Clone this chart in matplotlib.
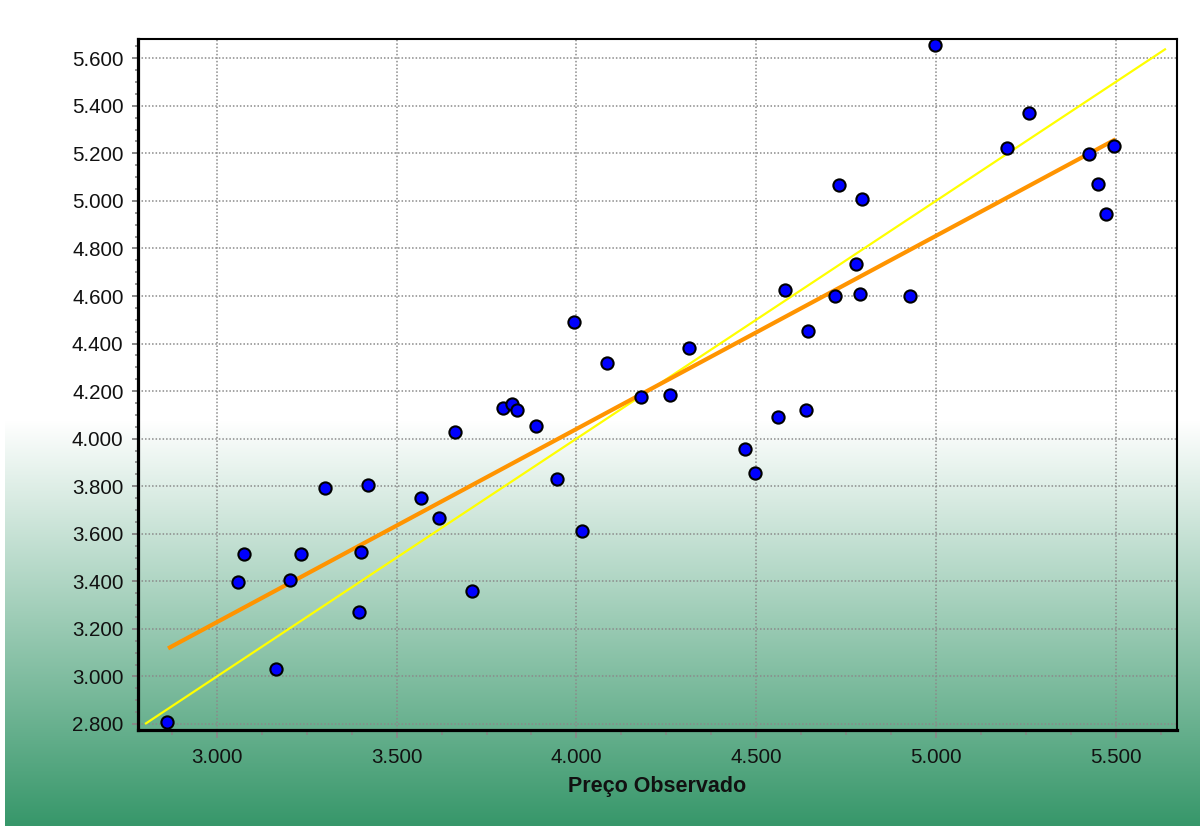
import numpy as np
import matplotlib
matplotlib.use("Agg")
import matplotlib.pyplot as plt
from matplotlib.ticker import MultipleLocator, FuncFormatter
from matplotlib.colors import LinearSegmentedColormap

# ---- data ----
obs_price = [2861, 3058, 3074, 3165, 3203, 3235, 3300, 3394, 3400, 3421,
             3567, 3619, 3662, 3710, 3796, 3822, 3834, 3887, 3945, 3993,
             4015, 4084, 4180, 4260, 4314, 4469, 4496, 4560, 4580, 4640,
             4645, 4720, 4730, 4778, 4789, 4795, 4929, 4997, 5197, 5260,
             5425, 5452, 5473, 5495]
est_price = [2808, 3397, 3516, 3030, 3406, 3516, 3791, 3272, 3523, 3806,
             3752, 3666, 4027, 3359, 4130, 4146, 4120, 4052, 3830, 4490,
             3612, 4318, 4176, 4185, 4381, 3956, 3854, 4091, 4624, 4122,
             4451, 4601, 5065, 4734, 4608, 5009, 4601, 5654, 5222, 5371,
             5199, 5073, 4947, 5231]
fit_x = [2864, 5500]
fit_y = [3118, 5259]
ident_x = [2800, 5640]
ident_y = [2800, 5640]
x_label = "Preço Observado"

W, H = 1200, 826
fig = plt.figure(figsize=(W / 100, H / 100), dpi=100)
fig.patch.set_facecolor("white")

# background gradient (white -> green) in lower part of figure
bg = fig.add_axes([5 / W, 0, 1 - 5 / W, 1 - 420 / H], zorder=-10)
cmap = LinearSegmentedColormap.from_list("g", ["#ffffff", "#37976a"])
grad = np.linspace(0, 1, 256).reshape(-1, 1)
bg.imshow(grad, aspect="auto", cmap=cmap, origin="upper", extent=[0, 1, 0, 1])
bg.set_axis_off()

ax = fig.add_axes([137.5 / W, 1 - 730.3 / H, (1176.7 - 137.5) / W, (730.3 - 39) / H])
ax.set_facecolor("none")

ax.grid(True, which="major", color="#8a8a8a", linestyle=(0, (1, 1.3)), linewidth=1.1, zorder=0)
ax.plot(ident_x, ident_y, color="#ffff00", linewidth=1.6, zorder=2, solid_capstyle="butt")
ax.plot(fit_x, fit_y, color="#ff9400", linewidth=3.0, zorder=3, solid_capstyle="butt")
ax.plot(obs_price, est_price, linestyle="none", marker="o", markersize=8.8,
        markerfacecolor="#0000ff", markeredgecolor="black", markeredgewidth=1.5, zorder=4)

ax.set_xlim(2779, 5670)
ax.set_ylim(2773.5, 5681)
ax.xaxis.set_major_locator(MultipleLocator(500))
ax.xaxis.set_minor_locator(MultipleLocator(125))
ax.yaxis.set_major_locator(MultipleLocator(200))
ax.yaxis.set_minor_locator(MultipleLocator(50))

fmt = FuncFormatter(lambda v, p: f"{int(round(v)):,}".replace(",", "."))
ax.xaxis.set_major_formatter(fmt)
ax.yaxis.set_major_formatter(fmt)

font = "Liberation Sans"
for lab in ax.get_xticklabels() + ax.get_yticklabels():
    lab.set_fontfamily(font)
ax.tick_params(axis="both", which="both", direction="out", colors="#888888",
               labelcolor="#111111", labelsize=14.8)
ax.tick_params(axis="x", which="major", length=6, width=1.4, pad=6.5)
ax.tick_params(axis="x", which="minor", length=3.5, width=1.2)
ax.tick_params(axis="y", which="major", length=4, width=1.4, pad=6)
ax.tick_params(axis="y", which="minor", length=2.5, width=1.2)

for side in ["left", "bottom"]:
    ax.spines[side].set_linewidth(2.3)
for side in ["top", "right"]:
    ax.spines[side].set_linewidth(1.5)
for s in ax.spines.values():
    s.set_color("black")
    s.set_zorder(5)

ax.set_xlabel(x_label, fontsize=15.5, fontweight="bold", family=font, color="#111111", labelpad=7)

fig.savefig("out.png", dpi=100)
